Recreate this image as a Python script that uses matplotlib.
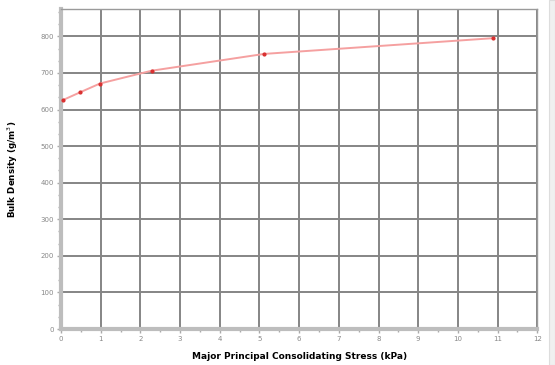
import matplotlib
matplotlib.use('Agg')
import matplotlib.pyplot as plt
from matplotlib.ticker import MultipleLocator, AutoMinorLocator
from matplotlib.patches import Rectangle

# stress (kPa) vs bulk density
stress = [0.05, 0.48, 0.98, 2.28, 5.12, 10.89]
density = [626, 647, 671, 706, 752, 795]

x_ticks = list(range(0, 13))
y_ticks = list(range(0, 801, 100))

fig = plt.figure(figsize=(5.55, 3.65), dpi=100)
ax = fig.add_axes([0.110, 0.0986, 0.858, 0.876])

ax.plot(stress, density, '-', color='#f5a0a0', linewidth=1.4, zorder=3)
ax.plot(stress, density, 'o', color='#d93030', markersize=2, zorder=4)

ax.set_xlim(0, 12)
ax.set_ylim(0, 874)
ax.set_xticks(x_ticks)
ax.set_yticks(y_ticks)
ax.xaxis.set_minor_locator(MultipleLocator(0.5))
ax.yaxis.set_minor_locator(AutoMinorLocator(3))

ax.grid(True, which='major', color='#858585', linewidth=1.4)
ax.set_axisbelow(True)

for s in ['top', 'right']:
    ax.spines[s].set_color('#9a9a9a')
    ax.spines[s].set_linewidth(1.0)
for s in ['left', 'bottom']:
    ax.spines[s].set_color('#bdbdbd')
    ax.spines[s].set_linewidth(3.0)

ax.tick_params(which='major', length=3, width=1, color='#aaaaaa',
               labelsize=5, labelcolor='#888888', pad=2)
ax.tick_params(which='minor', length=2, width=1, color='#aaaaaa')

ax.set_xlabel('Major Principal Consolidating Stress (kPa)', fontsize=6.5,
              fontweight='bold', labelpad=7)
ax.set_ylabel('Bulk Density (g/m$^3$)', fontsize=6.3, fontweight='bold',
              labelpad=15)

# light strip on the right edge
fig.patches.append(Rectangle((0.989, 0), 0.011, 1, transform=fig.transFigure,
                             facecolor='#f0f0f0', edgecolor='#dddddd',
                             linewidth=0.8, zorder=-1))

plt.savefig('out.png', dpi=100)
